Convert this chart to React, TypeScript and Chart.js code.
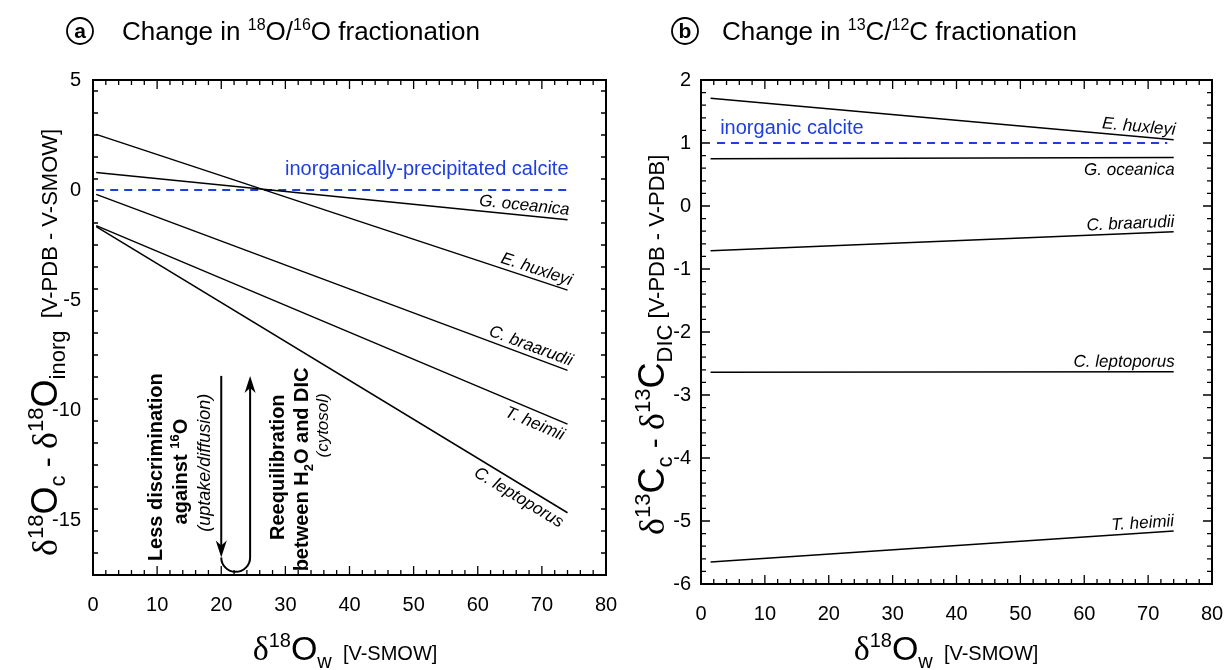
import React, { useEffect, useRef } from 'react';
import { Chart, registerables } from 'chart.js';

Chart.register(...registerables);

// ---------------- data ----------------
const xTicks = [0, 10, 20, 30, 40, 50, 60, 70, 80];

// Panel a: change in 18O/16O fractionation
const speciesA = ['G. oceanica', 'E. huxleyi', 'C. braarudii', 'T. heimii', 'C. leptoporus'];
const xRangeA = [0.5, 74];
const startA = [0.8, 2.53, -0.2, -1.62, -1.66];
const endA = [-1.35, -4.55, -8.2, -10.64, -14.67];
const labelSideA = ['above', 'above', 'above', 'below', 'below'];
const inorgXA = [0.5, 74];
const inorgYA = [0, 0];
const inorgLabelA = 'inorganically-precipitated calcite';
const yTicksA = [-15, -10, -5, 0, 5];

// Panel b: change in 13C/12C fractionation
const speciesB = ['E. huxleyi', 'G. oceanica', 'C. braarudii', 'C. leptoporus', 'T. heimii'];
const xRangeB = [1.5, 74];
const startB = [1.71, 0.75, -0.71, -2.64, -5.65];
const endB = [1.05, 0.77, -0.41, -2.63, -5.16];
const labelSideB = ['above', 'below', 'above', 'above', 'above'];
const inorgXB = [2.5, 73];
const inorgYB = [1, 1];
const inorgLabelB = 'inorganic calcite';
const yTicksB = [-6, -5, -4, -3, -2, -1, 0, 1, 2];

// annotation anchors (data coordinates) for panel a
const annoArrowDownX = 20;
const annoArrowUpX = 24.5;
const annoArrowTopY = -8.45;
const annoArrowTipY = -16.7;

// ---------------- styles ----------------
const SANS = '"Liberation Sans", Arial, sans-serif';
const SERIF = '"Liberation Serif", "Times New Roman", serif';
const BLUE = '#1f3ee0';

type Seg = { t: string; size: number; dy?: number; serif?: boolean; bold?: boolean; italic?: boolean };

function segFont(s: Seg) {
  return `${s.italic ? 'italic ' : ''}${s.bold ? 'bold ' : ''}${s.size}px ${s.serif ? SERIF : SANS}`;
}

function measureRich(ctx: CanvasRenderingContext2D, segs: Seg[]) {
  let w = 0;
  for (const s of segs) {
    ctx.font = segFont(s);
    w += ctx.measureText(s.t).width;
  }
  return w;
}

function drawRich(
  ctx: CanvasRenderingContext2D,
  segs: Seg[],
  x: number,
  y: number,
  align: 'left' | 'center' | 'right',
  angle = 0,
  color = '#000',
  baseShift = 0
) {
  ctx.save();
  ctx.translate(x, y);
  ctx.rotate(angle);
  const w = measureRich(ctx, segs);
  let cx = align === 'left' ? 0 : align === 'center' ? -w / 2 : -w;
  ctx.textAlign = 'left';
  ctx.textBaseline = 'alphabetic';
  ctx.fillStyle = color;
  for (const s of segs) {
    ctx.font = segFont(s);
    ctx.fillText(s.t, cx, (s.dy || 0) + baseShift);
    cx += ctx.measureText(s.t).width;
  }
  ctx.restore();
}

function near(v: number, arr: number[]) {
  return arr.some((a) => Math.abs(a - v) < 1e-6);
}

function drawFrame(chart: any, yTicks: number[], yMinor: number) {
  const { ctx, chartArea: a, scales } = chart;
  const x = scales.x;
  const y = scales.y;
  ctx.save();
  ctx.strokeStyle = '#000';
  ctx.lineWidth = 1.3;
  ctx.beginPath();
  for (let v = x.min; v <= x.max + 1e-9; v += 2) {
    const vv = Math.round(v * 1000) / 1000;
    const px = x.getPixelForValue(vv);
    const L = near(vv, xTicks) ? 9 : 5;
    ctx.moveTo(px, a.bottom);
    ctx.lineTo(px, a.bottom - L);
    ctx.moveTo(px, a.top);
    ctx.lineTo(px, a.top + L);
  }
  for (let v = y.min; v <= y.max + 1e-9; v += yMinor) {
    const vv = Math.round(v * 1000) / 1000;
    const py = y.getPixelForValue(vv);
    const L = near(vv, yTicks) ? 9 : 5;
    ctx.moveTo(a.left, py);
    ctx.lineTo(a.left + L, py);
    ctx.moveTo(a.right, py);
    ctx.lineTo(a.right - L, py);
  }
  ctx.stroke();
  ctx.lineWidth = 2;
  ctx.strokeRect(a.left, a.top, a.right - a.left, a.bottom - a.top);
  ctx.restore();
}

function drawLineLabel(
  chart: any,
  name: string,
  x0: number,
  y0: number,
  x1: number,
  y1: number,
  side: string
) {
  const { ctx, scales } = chart;
  const p0x = scales.x.getPixelForValue(x0);
  const p0y = scales.y.getPixelForValue(y0);
  const p1x = scales.x.getPixelForValue(x1);
  const p1y = scales.y.getPixelForValue(y1);
  const ang = Math.atan2(p1y - p0y, p1x - p0x);
  ctx.save();
  ctx.translate(p1x, p1y);
  ctx.rotate(ang);
  ctx.font = `italic 17px ${SANS}`;
  ctx.fillStyle = '#000';
  ctx.textAlign = 'right';
  if (side === 'above') {
    ctx.textBaseline = 'alphabetic';
    ctx.fillText(name, 1, -5);
  } else {
    ctx.textBaseline = 'top';
    ctx.fillText(name, 1, 4);
  }
  ctx.restore();
}

function drawCircleLetter(ctx: CanvasRenderingContext2D, cx: number, cy: number, letter: string) {
  ctx.save();
  ctx.beginPath();
  ctx.arc(cx, cy, 13, 0, Math.PI * 2);
  ctx.lineWidth = 1.8;
  ctx.strokeStyle = '#000';
  ctx.stroke();
  ctx.font = `bold 21px ${SANS}`;
  ctx.fillStyle = '#000';
  ctx.textAlign = 'center';
  ctx.textBaseline = 'middle';
  ctx.fillText(letter, cx, cy + 1);
  ctx.restore();
}

function arrowHead(ctx: CanvasRenderingContext2D, x: number, tipY: number, dir: number) {
  // dir = 1 pointing down, -1 pointing up
  const len = 17;
  const half = 5.5;
  ctx.beginPath();
  ctx.moveTo(x, tipY);
  ctx.lineTo(x - half, tipY - dir * len);
  ctx.lineTo(x, tipY - dir * (len - 5));
  ctx.lineTo(x + half, tipY - dir * len);
  ctx.closePath();
  ctx.fill();
}

const panelAPlugin = {
  id: 'panelA',
  afterDraw(chart: any) {
    const { ctx, scales } = chart;
    const x = scales.x;
    const y = scales.y;
    drawFrame(chart, yTicksA, 1);
    speciesA.forEach((name, i) =>
      drawLineLabel(chart, name, xRangeA[0], startA[i], xRangeA[1], endA[i], labelSideA[i])
    );
    // blue label
    ctx.save();
    ctx.font = `20px ${SANS}`;
    ctx.fillStyle = BLUE;
    ctx.textAlign = 'right';
    ctx.textBaseline = 'alphabetic';
    ctx.fillText(inorgLabelA, x.getPixelForValue(inorgXA[1]) + 1, y.getPixelForValue(inorgYA[1]) - 15);
    ctx.restore();

    // title
    drawCircleLetter(ctx, 80, 31, 'a');
    drawRich(
      ctx,
      [
        { t: 'Change in ', size: 26 },
        { t: '18', size: 16, dy: -10 },
        { t: 'O/', size: 26 },
        { t: '16', size: 16, dy: -10 },
        { t: 'O fractionation', size: 26 },
      ],
      122,
      40,
      'left'
    );
    // y title
    drawRich(
      ctx,
      [
        { t: 'δ', size: 36, serif: true },
        { t: '18', size: 22, dy: -14 },
        { t: 'O', size: 36 },
        { t: 'c', size: 22, dy: 8 },
        { t: ' - ', size: 30 },
        { t: 'δ', size: 36, serif: true },
        { t: '18', size: 22, dy: -14 },
        { t: 'O', size: 36 },
        { t: 'inorg', size: 22, dy: 8 },
        { t: '  [V-PDB - V-SMOW]', size: 22 },
      ],
      57,
      556,
      'left',
      -Math.PI / 2
    );
    // x title
    drawRich(
      ctx,
      [
        { t: 'δ', size: 34, serif: true },
        { t: '18', size: 20, dy: -13 },
        { t: 'O', size: 34 },
        { t: 'w', size: 20, dy: 8 },
        { t: '  [V-SMOW]', size: 20 },
      ],
      345,
      660,
      'center'
    );

    // annotation arrows
    const xd = x.getPixelForValue(annoArrowDownX);
    const xu = x.getPixelForValue(annoArrowUpX);
    const yTop = y.getPixelForValue(annoArrowTopY);
    const yTip = y.getPixelForValue(annoArrowTipY);
    ctx.save();
    ctx.strokeStyle = '#000';
    ctx.fillStyle = '#000';
    ctx.lineWidth = 2;
    ctx.beginPath();
    ctx.moveTo(xd, yTop);
    ctx.lineTo(xd, yTip - 10);
    ctx.stroke();
    arrowHead(ctx, xd, yTip, 1);
    ctx.beginPath();
    ctx.moveTo(xd, yTip);
    ctx.arc((xd + xu) / 2, yTip, (xu - xd) / 2, Math.PI, 0, true);
    ctx.lineTo(xu, yTop + 10);
    ctx.stroke();
    arrowHead(ctx, xu, yTop, -1);
    ctx.restore();

    const R = -Math.PI / 2;
    const P = (vx: number, vy: number) => [x.getPixelForValue(vx), y.getPixelForValue(vy)];
    let p = P(9.7, -12.6);
    drawRich(ctx, [{ t: 'Less discrimination', size: 20, bold: true }], p[0], p[1], 'center', R, '#000', 7);
    p = P(13.6, -12.8);
    drawRich(
      ctx,
      [
        { t: 'against ', size: 20, bold: true },
        { t: '16', size: 13, bold: true, dy: -8 },
        { t: 'O', size: 20, bold: true },
      ],
      p[0],
      p[1],
      'center',
      R,
      '#000',
      7
    );
    p = P(17.3, -12.4);
    drawRich(ctx, [{ t: '(uptake/diffusion)', size: 18, italic: true }], p[0], p[1], 'center', R, '#000', 6);
    p = P(28.7, -12.6);
    drawRich(ctx, [{ t: 'Reequilibration', size: 20, bold: true }], p[0], p[1], 'center', R, '#000', 7);
    p = P(32.5, -12.7);
    drawRich(
      ctx,
      [
        { t: 'between H', size: 20, bold: true },
        { t: '2', size: 13, bold: true, dy: 5 },
        { t: 'O and DIC', size: 20, bold: true },
      ],
      p[0],
      p[1],
      'center',
      R,
      '#000',
      7
    );
    p = P(35.7, -10.7);
    drawRich(ctx, [{ t: '(cytosol)', size: 17, italic: true }], p[0], p[1], 'center', R, '#000', 6);
  },
};

const OFFB = 613;

const panelBPlugin = {
  id: 'panelB',
  afterDraw(chart: any) {
    const { ctx, scales } = chart;
    const x = scales.x;
    const y = scales.y;
    drawFrame(chart, yTicksB, 0.2);
    speciesB.forEach((name, i) =>
      drawLineLabel(chart, name, xRangeB[0], startB[i], xRangeB[1], endB[i], labelSideB[i])
    );
    ctx.save();
    ctx.font = `20px ${SANS}`;
    ctx.fillStyle = BLUE;
    ctx.textAlign = 'left';
    ctx.textBaseline = 'alphabetic';
    ctx.fillText(inorgLabelB, x.getPixelForValue(3), y.getPixelForValue(inorgYB[0]) - 9);
    ctx.restore();

    drawCircleLetter(ctx, 685 - OFFB, 31, 'b');
    drawRich(
      ctx,
      [
        { t: 'Change in ', size: 26 },
        { t: '13', size: 16, dy: -10 },
        { t: 'C/', size: 26 },
        { t: '12', size: 16, dy: -10 },
        { t: 'C fractionation', size: 26 },
      ],
      722 - OFFB,
      40,
      'left'
    );
    drawRich(
      ctx,
      [
        { t: 'δ', size: 36, serif: true },
        { t: '13', size: 22, dy: -14 },
        { t: 'C', size: 36 },
        { t: 'c', size: 22, dy: 8 },
        { t: ' - ', size: 30 },
        { t: 'δ', size: 36, serif: true },
        { t: '13', size: 22, dy: -14 },
        { t: 'C', size: 36 },
        { t: 'DIC', size: 22, dy: 8 },
        { t: ' [V-PDB - V-PDB]', size: 22 },
      ],
      664 - OFFB,
      535,
      'left',
      -Math.PI / 2
    );
    drawRich(
      ctx,
      [
        { t: 'δ', size: 34, serif: true },
        { t: '18', size: 20, dy: -13 },
        { t: 'O', size: 34 },
        { t: 'w', size: 20, dy: 8 },
        { t: '  [V-SMOW]', size: 20 },
      ],
      946 - OFFB,
      660,
      'center'
    );
  },
};

function lineDataset(xs: number[], ys: number[], dashed = false) {
  return {
    data: [
      { x: xs[0], y: ys[0] },
      { x: xs[1], y: ys[1] },
    ],
    borderColor: dashed ? BLUE : '#000',
    borderWidth: dashed ? 2.2 : 1.5,
    borderDash: dashed ? [8, 6] : [],
    pointRadius: 0,
    fill: false,
    tension: 0,
  };
}

function makeConfig(
  datasets: any[],
  yMin: number,
  yMax: number,
  yTicks: number[],
  yWidth: number,
  xHeight: number,
  padRight: number,
  yPad: number,
  plugin: any
) {
  return {
    type: 'line' as const,
    data: { datasets },
    options: {
      animation: false as const,
      responsive: false,
      devicePixelRatio: 1,
      layout: { padding: { left: 0, top: 80, right: padRight, bottom: 0 } },
      plugins: { legend: { display: false }, tooltip: { enabled: false } },
      scales: {
        x: {
          type: 'linear' as const,
          min: 0,
          max: 80,
          afterBuildTicks: (s: any) => {
            s.ticks = xTicks.map((value) => ({ value }));
          },
          afterFit: (s: any) => {
            s.height = xHeight;
            s.paddingLeft = 0;
            s.paddingRight = 0;
          },
          grid: { display: false, drawTicks: false },
          border: { display: false },
          ticks: { color: '#000', font: { family: SANS, size: 20 }, padding: 18, maxRotation: 0 },
        },
        y: {
          type: 'linear' as const,
          min: yMin,
          max: yMax,
          afterBuildTicks: (s: any) => {
            s.ticks = yTicks.map((value) => ({ value }));
          },
          afterFit: (s: any) => {
            s.width = yWidth;
            s.paddingTop = 0;
            s.paddingBottom = 0;
          },
          grid: { display: false, drawTicks: false },
          border: { display: false },
          ticks: { color: '#000', font: { family: SANS, size: 20 }, padding: yPad },
        },
      },
    },
    plugins: [plugin],
  };
}

const CANVAS_A_W = 640;

export default function App() {
  const refA = useRef<HTMLCanvasElement>(null);
  const refB = useRef<HTMLCanvasElement>(null);

  useEffect(() => {
    const dsA = [
      ...speciesA.map((_, i) => lineDataset(xRangeA, [startA[i], endA[i]])),
      lineDataset(inorgXA, inorgYA, true),
    ];
    const dsB = [
      ...speciesB.map((_, i) => lineDataset(xRangeB, [startB[i], endB[i]])),
      lineDataset(inorgXB, inorgYB, true),
    ];
    const a = new Chart(
      refA.current as HTMLCanvasElement,
      makeConfig(dsA, -17.5, 5, yTicksA, 93, 95, CANVAS_A_W - 606, 12, panelAPlugin) as any
    );
    const b = new Chart(
      refB.current as HTMLCanvasElement,
      makeConfig(dsB, -6, 2, yTicksB, 88, 86, 15, 10, panelBPlugin) as any
    );
    return () => {
      a.destroy();
      b.destroy();
    };
  }, []);

  return (
    <div style={{ position: 'fixed', left: 0, top: 0, width: 1227, height: 670, background: '#fff' }}>
      <canvas
        ref={refB}
        width={614}
        height={670}
        style={{ position: 'absolute', left: 613, top: 0, width: 614, height: 670 }}
      />
      <canvas
        ref={refA}
        width={CANVAS_A_W}
        height={670}
        style={{ position: 'absolute', left: 0, top: 0, width: CANVAS_A_W, height: 670 }}
      />
    </div>
  );
}
